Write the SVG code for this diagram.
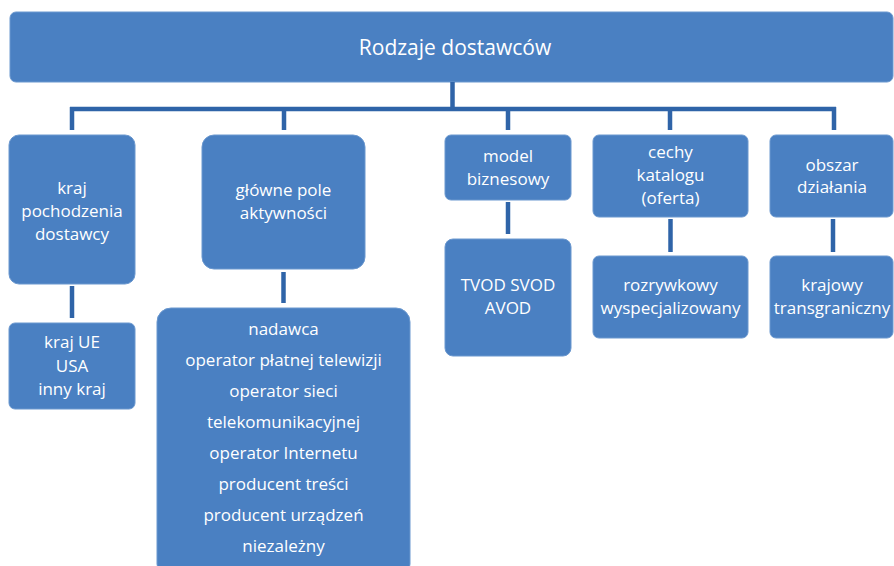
<svg xmlns="http://www.w3.org/2000/svg" width="894" height="566" viewBox="0 0 894 566">
  <style>
    .box { fill: #4a80c2; stroke: #6b98cf; stroke-width: 1; }
    .lbl { font-family: "Open Sans", "Noto Sans", sans-serif; font-size: 17px; fill: #ffffff; text-anchor: middle; }
    .title { font-size: 21px; }
    .conn { stroke: #2f64a8; stroke-width: 4.5; fill: none; }
  </style>

  <g id="root">
    <rect class="box" x="10" y="12" width="883" height="70" rx="6"/>
    <text class="lbl title" x="455" y="55">Rodzaje dostawców</text>
  </g>

  <g id="connectors">
    <path class="conn" d="M452.5 82 V109 M70 109 H836 M72 107 V130 M284 107 V130 M508 107 V130 M670 107 V130 M834 107 V130"/>
    <path class="conn" d="M72 286 V318"/>
    <path class="conn" d="M283.5 272 V303"/>
    <path class="conn" d="M508 202 V234"/>
    <path class="conn" d="M670.5 219 V252"/>
    <path class="conn" d="M833 219 V252"/>
  </g>

  <g id="origin">
    <rect class="box" x="9" y="135" width="126" height="149" rx="10"/>
    <text class="lbl" x="72" y="194">kraj</text>
    <text class="lbl" x="72" y="217">pochodzenia</text>
    <text class="lbl" x="72" y="240">dostawcy</text>
  </g>
  <g id="origin-values">
    <rect class="box" x="9" y="323" width="126" height="86" rx="6"/>
    <text class="lbl" x="72" y="348">kraj UE</text>
    <text class="lbl" x="72" y="372">USA</text>
    <text class="lbl" x="72" y="395">inny kraj</text>
  </g>

  <g id="activity">
    <rect class="box" x="202" y="135" width="163" height="134" rx="12"/>
    <text class="lbl" x="283.5" y="196">główne pole</text>
    <text class="lbl" x="283.5" y="219">aktywności</text>
  </g>
  <g id="activity-values">
    <rect class="box" x="157" y="308" width="253" height="270" rx="14"/>
    <text class="lbl" x="283.5" y="335">nadawca</text>
    <text class="lbl" x="283.5" y="366">operator płatnej telewizji</text>
    <text class="lbl" x="283.5" y="397">operator sieci</text>
    <text class="lbl" x="283.5" y="428">telekomunikacyjnej</text>
    <text class="lbl" x="283.5" y="459">operator Internetu</text>
    <text class="lbl" x="283.5" y="490">producent treści</text>
    <text class="lbl" x="283.5" y="521">producent urządzeń</text>
    <text class="lbl" x="283.5" y="552">niezależny</text>
  </g>

  <g id="business-model">
    <rect class="box" x="445" y="135" width="126" height="65" rx="6"/>
    <text class="lbl" x="508" y="162">model</text>
    <text class="lbl" x="508" y="185">biznesowy</text>
  </g>
  <g id="business-model-values">
    <rect class="box" x="445" y="239" width="126" height="117" rx="8"/>
    <text class="lbl" x="508" y="291">TVOD SVOD</text>
    <text class="lbl" x="508" y="314">AVOD</text>
  </g>

  <g id="catalogue">
    <rect class="box" x="593" y="135" width="155" height="82" rx="6"/>
    <text class="lbl" x="670.5" y="158">cechy</text>
    <text class="lbl" x="670.5" y="181">katalogu</text>
    <text class="lbl" x="670.5" y="204">(oferta)</text>
  </g>
  <g id="catalogue-values">
    <rect class="box" x="593" y="256" width="155" height="82" rx="6"/>
    <text class="lbl" x="670.5" y="291">rozrywkowy</text>
    <text class="lbl" x="670.5" y="314">wyspecjalizowany</text>
  </g>

  <g id="area">
    <rect class="box" x="770" y="135" width="123" height="82" rx="6"/>
    <text class="lbl" x="832" y="171">obszar</text>
    <text class="lbl" x="832" y="193">działania</text>
  </g>
  <g id="area-values">
    <rect class="box" x="770" y="256" width="123" height="82" rx="6"/>
    <text class="lbl" x="832" y="291">krajowy</text>
    <text class="lbl" x="832" y="314">transgraniczny</text>
  </g>
</svg>
